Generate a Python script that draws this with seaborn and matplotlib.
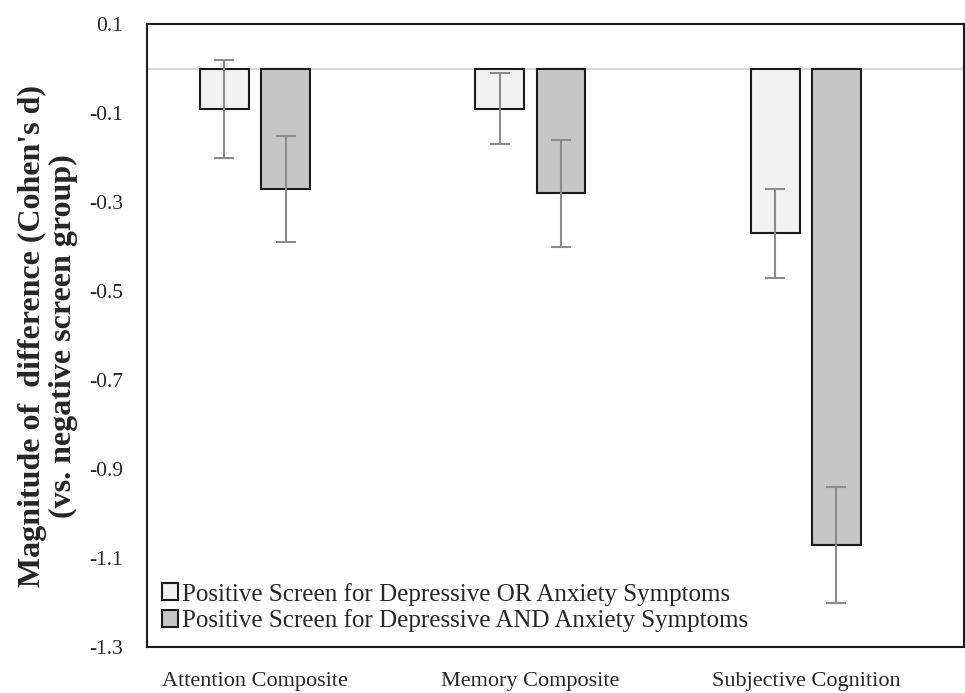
import matplotlib
matplotlib.use("Agg")
import matplotlib.pyplot as plt
import seaborn as sns
import pandas as pd

categories = ["Attention Composite", "Memory Composite", "Subjective Cognition"]
groups = ["Positive Screen for Depressive OR Anxiety Symptoms",
          "Positive Screen for Depressive AND Anxiety Symptoms"]
or_values = [-0.09, -0.09, -0.37]
and_values = [-0.27, -0.28, -1.07]
or_errors = [0.11, 0.08, 0.10]
and_errors = [0.12, 0.12, 0.13]
y_ticks = [0.1, -0.1, -0.3, -0.5, -0.7, -0.9, -1.1, -1.3]
y_tick_labels = ["0.1", "-0.1", "-0.3", "-0.5", "-0.7", "-0.9", "-1.1", "-1.3"]

df = pd.DataFrame({
    "category": categories * 2,
    "group": [groups[0]] * 3 + [groups[1]] * 3,
    "d": or_values + and_values,
    "err": or_errors + and_errors,
})

sns.set_style("white")
plt.rcParams["font.family"] = ["Liberation Serif", "DejaVu Serif"]

fig = plt.figure(figsize=(9.65, 6.93), dpi=100)
ax = fig.add_axes([0.152, 0.066, 0.847, 0.899])

sns.barplot(data=df, x="category", y="d", hue="group", order=categories,
            hue_order=groups, palette=["#f2f2f2", "#c6c6c6"], width=0.444,
            gap=0.2, errorbar=None, edgecolor="#1a1a1a", linewidth=1.5, ax=ax)

# error bars placed at the bar centres seaborn computed
for container, g in zip(ax.containers, groups):
    sub = df[df["group"] == g]
    xs = [p.get_x() + p.get_width() / 2 for p in container.patches]
    ax.errorbar(xs, sub["d"].values, yerr=sub["err"].values, fmt="none",
                ecolor="#8c8c8c", elinewidth=1.5, capsize=7, capthick=1.5, zorder=5)

ax.axhline(0, color="#d9d9d9", linewidth=1.5, zorder=0)

ax.set_ylim(-1.3, 0.1)
ax.set_xlim(-0.393, 2.574)
ax.set_yticks(y_ticks)
ax.set_yticklabels(y_tick_labels, fontsize=15.5)
ax.tick_params(axis="y", length=0, pad=17)
ax.tick_params(axis="x", length=0, pad=18, labelsize=16)
ax.set_xlabel("")
ax.set_ylabel("Magnitude of  difference (Cohen's d)\n(vs. negative screen group)",
              fontsize=23, fontweight="bold", labelpad=8, linespacing=1.1)

for s in ax.spines.values():
    s.set_visible(True)
    s.set_color("#1a1a1a")
    s.set_linewidth(1.5)

ax.legend(loc="lower left", frameon=False, fontsize=18, handlelength=0.65,
          handleheight=0.65, handletextpad=0.15, labelspacing=0.15,
          borderaxespad=0.2, bbox_to_anchor=(0.0, 0.0))

fig.savefig("out.png", dpi=100)
